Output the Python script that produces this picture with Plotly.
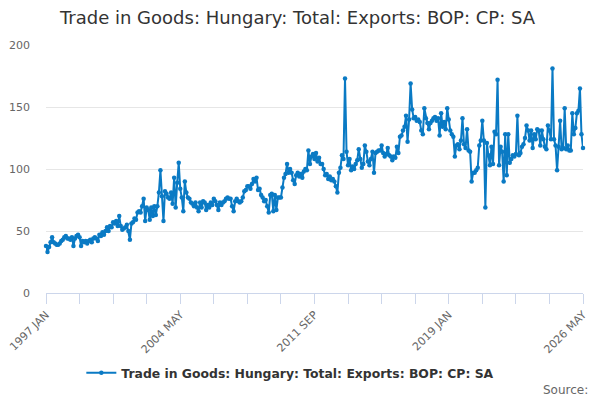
import plotly.graph_objects as go

# monthly values (1997 JAN .. 2026 MAY)
years = list(range(1997, 2027))
months = ["JAN", "FEB", "MAR", "APR", "MAY", "JUN", "JUL", "AUG", "SEP", "OCT", "NOV", "DEC"]

v1997 = [38, 33, 37, 41, 45, 41, 40, 39, 39, 40, 42, 43]
v1998 = [45, 46, 44, 44, 43, 45, 38, 44, 46, 47, 45, 38]
v1999 = [42, 41, 42, 40, 42, 43, 41, 44, 45, 44, 42, 47]
v2000 = [46, 49, 47, 50, 53, 50, 54, 53, 57, 56, 58, 54]
v2001 = [62, 54, 51, 52, 53, 55, 50, 43, 56, 57, 60, 59]
v2002 = [65, 66, 65, 70, 76, 58, 69, 67, 59, 69, 62, 70]
v2003 = [63, 70, 81, 99, 78, 58, 82, 80, 77, 76, 81, 72]
v2004 = [93, 69, 89, 105, 84, 77, 66, 90, 81, 77, 76, 73]
v2005 = [72, 70, 73, 69, 66, 73, 69, 74, 73, 67, 71, 69]
v2006 = [73, 71, 76, 74, 71, 67, 73, 71, 73, 74, 76, 77]
v2007 = [76, 76, 70, 66, 74, 76, 74, 73, 74, 77, 82, 83]
v2008 = [86, 86, 84, 88, 92, 90, 93, 83, 84, 79, 77, 74]
v2009 = [75, 70, 65, 79, 80, 66, 79, 67, 77, 77, 77, 85]
v2010 = [93, 96, 104, 97, 100, 97, 91, 88, 95, 97, 94, 96]
v2011 = [93, 98, 100, 99, 115, 104, 110, 112, 108, 113, 106, 109]
v2012 = [104, 104, 100, 95, 96, 92, 94, 91, 92, 90, 86, 81]
v2013 = [97, 101, 111, 108, 173, 114, 103, 108, 99, 102, 100, 104]
v2014 = [107, 116, 108, 101, 104, 119, 114, 106, 103, 108, 114, 97]
v2015 = [113, 114, 115, 115, 119, 113, 110, 112, 117, 111, 110, 107]
v2016 = [110, 109, 118, 113, 126, 127, 131, 134, 143, 122, 140, 169]
v2017 = [148, 141, 142, 139, 140, 138, 131, 128, 149, 141, 137, 132]
v2018 = [137, 139, 141, 142, 139, 141, 127, 145, 134, 138, 132, 149]
v2019 = [140, 131, 128, 126, 110, 119, 120, 116, 123, 141, 120, 117]
v2020 = [132, 115, 114, 90, 97, 97, 99, 101, 119, 123, 139, 123]
v2021 = [69, 121, 111, 103, 118, 104, 130, 128, 172, 103, 118, 114]
v2022 = [90, 128, 95, 128, 105, 108, 111, 110, 112, 143, 111, 113]
v2023 = [118, 120, 125, 135, 131, 123, 131, 117, 128, 124, 132, 131]
v2024 = [119, 131, 124, 118, 116, 135, 131, 124, 181, 124, 119, 99]
v2025 = [118, 139, 116, 117, 149, 116, 119, 115, 115, 145, 128, 133]
v2026 = [145, 147, 165, 128, 117]

values = (v1997 + v1998 + v1999 + v2000 + v2001 + v2002 + v2003 + v2004 + v2005 + v2006
          + v2007 + v2008 + v2009 + v2010 + v2011 + v2012 + v2013 + v2014 + v2015 + v2016
          + v2017 + v2018 + v2019 + v2020 + v2021 + v2022 + v2023 + v2024 + v2025 + v2026)

labels = [str(y) + " " + m for y in years for m in months][:len(values)]

title = "Trade in Goods: Hungary: Total: Exports: BOP: CP: SA"
font = "DejaVu Sans, Verdana, sans-serif"

# tick marks every 22 months, a label on every 4th one
tickvals = labels[::22]
ticktext = [t if i % 4 == 0 else "" for i, t in enumerate(tickvals)]

fig = go.Figure()
fig.add_trace(go.Scatter(
    x=labels, y=values, mode="lines+markers", name=title,
    line=dict(color="#0a7ac4", width=2),
    marker=dict(size=4.5, color="#0a7ac4"),
    cliponaxis=False,
))

# page body has an 8px margin, so the figure is 592x392 and sits at (8, 8)
fig.update_layout(
    width=592, height=392,
    margin=dict(l=38, r=17, t=37, b=107),
    paper_bgcolor="white", plot_bgcolor="white",
    font=dict(family=font, color="#333333"),
    title=dict(text=title, x=0.0878, xref="container", xanchor="left",
               y=0.9745, yanchor="middle", font=dict(size=18, color="#333333")),
    showlegend=True,
    legend=dict(orientation="h", x=0.455, xanchor="center", y=-0.323, yanchor="middle",
                itemwidth=30,
                font=dict(size=12.4, color="#333333", family="DejaVu Sans, sans-serif", weight="bold")),
    xaxis=dict(type="category", range=[0, len(values) - 1], automargin=False,
               tickmode="array", tickvals=tickvals, ticktext=ticktext,
               tickangle=-45, ticks="outside", ticklen=10, tickcolor="#ccd6eb",
               showline=True, linecolor="#ccd6eb", showgrid=False,
               tickfont=dict(size=11, color="#666666")),
    yaxis=dict(range=[0, 200], tickvals=[0, 50, 100, 150, 200], automargin=False,
               gridcolor="#e6e6e6", zeroline=False, showline=False,
               ticklabelstandoff=15, tickfont=dict(size=11, color="#666666")),
    annotations=[dict(text="Source:", xref="paper", yref="paper", x=1.013, y=-0.391,
                      xanchor="right", yanchor="middle", showarrow=False,
                      font=dict(size=12, color="#666666"))],
)

fig.write_html("out.html")
